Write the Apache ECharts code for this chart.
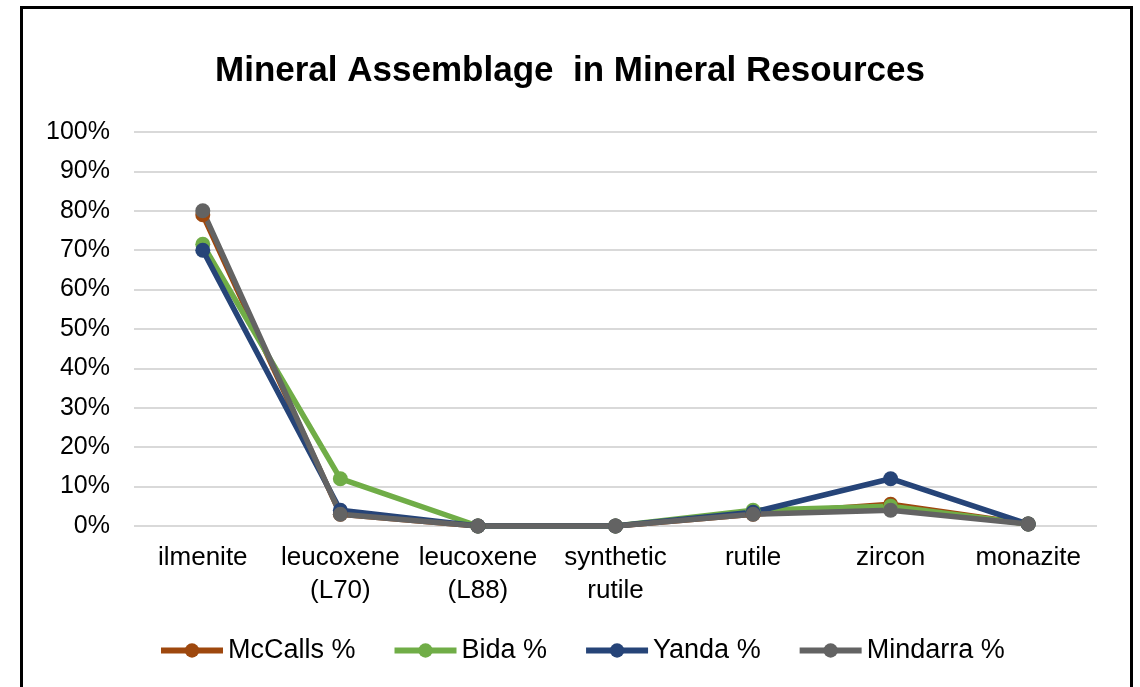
<!DOCTYPE html>
<html>
<head>
<meta charset="utf-8">
<script src="https://cdn.jsdelivr.net/npm/echarts@6/dist/echarts.min.js"></script>
<style>
  html, body { margin: 0; padding: 0; background: #fff; overflow: hidden; }
  #chart { width: 1140px; height: 687px; }
  .frame {
    position: absolute; left: 20px; top: 6px; width: 1113px; height: 720px;
    border: 3px solid #000; box-sizing: border-box; pointer-events: none;
  }
</style>
</head>
<body>
<div id="chart"></div>
<div class="frame"></div>
<script>
// categories (x axis)
var minerals = ['ilmenite', 'leucoxene\n(L70)', 'leucoxene\n(L88)', 'synthetic\nrutile', 'rutile', 'zircon', 'monazite']

// percent values per deposit
var mcCalls = [79, 3, 0, 0, 3, 5.5, 0.5]
var bida = [71.5, 12, 0, 0, 4, 5, 0.5]
var yanda = [70, 4, 0, 0, 3.5, 12, 0.5]
var mindarra = [80, 3, 0, 0, 3, 4, 0.5]

var seriesNames = ['McCalls %', 'Bida %', 'Yanda %', 'Mindarra %']
var seriesColors = ['#9E480E', '#70AD47', '#264478', '#636363']

var chart = echarts.init(document.getElementById('chart'))

function makeLine (name, data, color) {
  return {
    name: name,
    type: 'line',
    data: data,
    symbol: 'circle',
    symbolSize: 15,
    lineStyle: { width: 5.5, color: color },
    itemStyle: { color: color },
    emphasis: { disabled: true }
  }
}

chart.setOption({
  animation: false,
  title: {
    text: 'Mineral Assemblage  in Mineral Resources',
    left: 'center',
    top: 49,
    textStyle: { fontFamily: 'Liberation Sans', fontSize: 35, fontWeight: 'bold', color: '#000' }
  },
  legend: {
    top: 632,
    left: 153,
    itemWidth: 62,
    itemHeight: 18,
    itemGap: 36,
    lineStyle: { width: 6 },
    textStyle: { fontFamily: 'Liberation Sans', fontSize: 27, color: '#000' },
    data: seriesNames
  },
  grid: { left: 134, right: 43, top: 132, bottom: 161, containLabel: false },
  xAxis: {
    type: 'category',
    data: minerals,
    boundaryGap: true,
    axisLine: { show: false },
    axisTick: { show: false },
    axisLabel: {
      fontFamily: 'Liberation Sans', fontSize: 26, color: '#000',
      margin: 15, lineHeight: 33, interval: 0
    }
  },
  yAxis: {
    type: 'value',
    min: 0,
    max: 100,
    interval: 10,
    axisLine: { show: false },
    axisTick: { show: false },
    splitLine: { lineStyle: { color: '#D9D9D9', width: 2 } },
    axisLabel: {
      fontFamily: 'Liberation Sans', fontSize: 25, color: '#000',
      margin: 24, formatter: '{value}%'
    }
  },
  series: [
    makeLine(seriesNames[0], mcCalls, seriesColors[0]),
    makeLine(seriesNames[1], bida, seriesColors[1]),
    makeLine(seriesNames[2], yanda, seriesColors[2]),
    makeLine(seriesNames[3], mindarra, seriesColors[3])
  ]
})
</script>
</body>
</html>
